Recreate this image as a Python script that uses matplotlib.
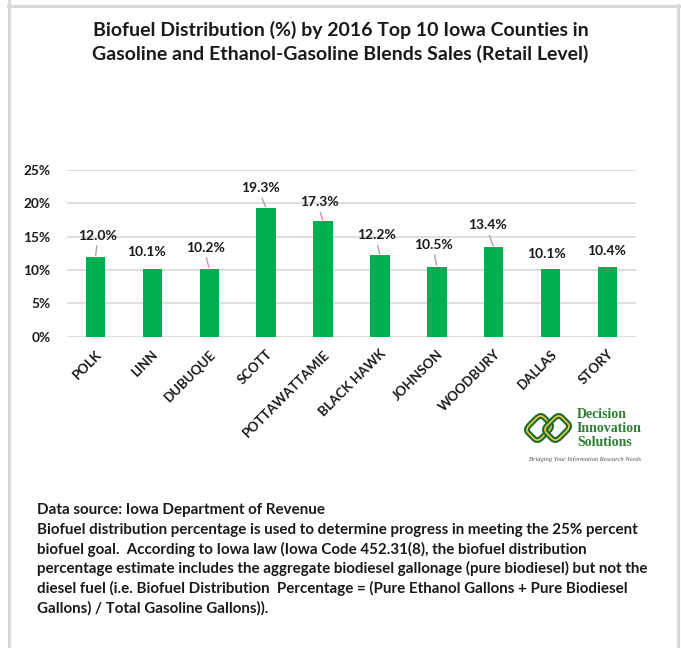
import matplotlib.pyplot as plt
from matplotlib.lines import Line2D
from matplotlib.patches import FancyBboxPatch
from matplotlib.transforms import Affine2D
from matplotlib.ticker import PercentFormatter

counties = ['POLK', 'LINN', 'DUBUQUE', 'SCOTT', 'POTTAWATTAMIE', 'BLACK HAWK',
            'JOHNSON', 'WOODBURY', 'DALLAS', 'STORY']
biofuel_pct = [12.0, 10.1, 10.2, 19.3, 17.3, 12.2, 10.5, 13.4, 10.1, 10.4]
y_ticks = [0, 5, 10, 15, 20, 25]

title = ('Biofuel Distribution (%) by 2016 Top 10 Iowa Counties in\n'
         'Gasoline and Ethanol-Gasoline Blends Sales (Retail Level)')
notes = ['Data source: Iowa Department of Revenue',
         'Biofuel distribution percentage is used to determine progress in meeting the 25% percent',
         'biofuel goal.  According to Iowa law (Iowa Code 452.31(8), the biofuel distribution',
         'percentage estimate includes the aggregate biodiesel gallonage (pure biodiesel) but not the',
         'diesel fuel (i.e. Biofuel Distribution  Percentage = (Pure Ethanol Gallons + Pure Biodiesel',
         'Gallons) / Total Gasoline Gallons)).']

# label offsets from the bar top, in pixels, and whether a leader line is drawn
label_dx = [2, -6, -4, -6, -4, -3, -3, -6, -4, -1]
label_dy = [21, 17, 21, 20, 19, 20, 22, 22, 15, 16]
leader = [True, False, True, True, True, True, True, True, False, False]

W, H = 681, 648
plt.rcParams['font.family'] = ['Lato', 'DejaVu Sans']
green = '#00B050'
dark = '#1a1a1a'

fig = plt.figure(figsize=(W / 100, H / 100), dpi=100)


def fx(x):
    return x / W


def fy(y):
    return 1 - y / H


# panel border
frame = '#D9D9D9'
fig.add_artist(Line2D([fx(8.5), fx(8.5)], [0, 1], color=frame, lw=2.2, transform=fig.transFigure))
fig.add_artist(Line2D([fx(8), 1], [fy(5.5), fy(5.5)], color=frame, lw=2.2, transform=fig.transFigure))
fig.add_artist(Line2D([fx(678), fx(678)], [0, fy(5)], color=frame, lw=2.2, transform=fig.transFigure))

fig.text(0.5, fy(42), title, ha='center', va='center', fontsize=14, fontweight='bold',
         color=dark, linespacing=1.4)

ax = fig.add_axes([fx(67), fy(336.7), (636 - 67) / W, (336.7 - 170) / H])
x = range(len(counties))
bars = ax.bar(x, biofuel_pct, width=0.34, color=green, zorder=3)
ax.set_xlim(-0.5, len(counties) - 0.5)
ax.set_ylim(0, 25)
ax.set_yticks(y_ticks)
ax.yaxis.set_major_formatter(PercentFormatter(decimals=0))
ax.grid(axis='y', color='#D9D9D9', lw=1.2, zorder=0)
for s in ax.spines.values():
    s.set_visible(False)
ax.tick_params(length=0)
ax.tick_params(axis='y', pad=12, labelsize=9.8, labelcolor=dark)
ax.set_xticks(list(x))
ax.set_xticklabels(counties, rotation=45, ha='right', rotation_mode='anchor',
                   fontsize=9.5, fontweight='bold', color=dark)
ax.tick_params(axis='x', pad=8)
for lab in ax.get_yticklabels():
    lab.set_fontweight('bold')

for i, b in enumerate(bars):
    xy = (b.get_x() + b.get_width() / 2, b.get_height())
    props = None
    if leader[i]:
        props = dict(arrowstyle='-', color='#A6A6A6', lw=1, shrinkA=1, shrinkB=1,
                     relpos=(0.5, 0))
    ax.annotate(f'{biofuel_pct[i]:.1f}%', xy, xytext=(label_dx[i], label_dy[i]),
                textcoords='offset pixels', ha='center', va='center', fontsize=10,
                fontweight='bold', color=dark, arrowprops=props, zorder=4)

# company logo: two interlaced rounded diamonds
for cx, cy in [(539, 428), (557, 428)]:
    for ec, lw in [('#1E6B2E', 4.2), ('#E8C84A', 1.2)]:
        sq = FancyBboxPatch((-11, -11), 22, 22, boxstyle='round,pad=0,rounding_size=6',
                            fill=False, ec=ec, lw=lw)
        sq.set_transform(Affine2D().scale(1, 0.8).rotate_deg(45).translate(cx, H - cy))
        fig.add_artist(sq)
logo_green = '#2E7D32'
for txt, yy in [('Decision', 415), ('Innovation', 429), ('Solutions', 443)]:
    fig.text(fx(577), fy(yy), txt, ha='left', va='center', fontsize=10, fontweight='bold',
             family='Liberation Serif', color=logo_green)
fig.text(fx(585), fy(459), 'Bridging Your Information Research Needs', ha='center', va='center',
         fontsize=4.7, style='italic', family='Liberation Serif', color='#555555')

for k, line in enumerate(notes):
    fig.text(fx(37), fy(510 + 19.6 * k), line, ha='left', va='center', fontsize=10.9,
             fontweight='bold', color=dark)

fig.savefig('out.png', dpi=100, facecolor='white')
